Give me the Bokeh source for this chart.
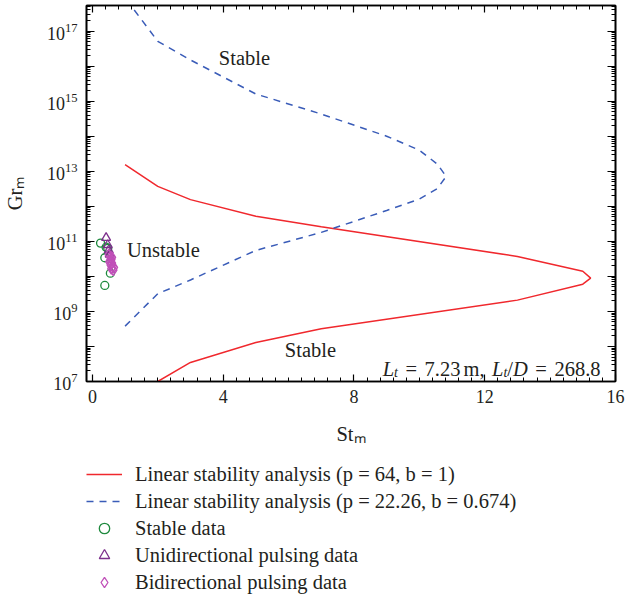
from bokeh.plotting import figure
from bokeh.layouts import column
from bokeh.models import (Range1d, LogAxis, LinearAxis, FixedTicker, LogTickFormatter,
                          Legend, LegendItem, Label)
from bokeh.embed import file_html
from bokeh.resources import INLINE

# ---------------- data ----------------
red_st = [1, 2, 3, 5, 7, 13, 15, 15.24, 15, 13, 7, 5, 3, 2]
red_gr = [1.55e13, 3.7e12, 1.55e12, 5.2e11, 2.6e11, 3.7e10, 1.4e10, 8.9e9,
          6.0e9, 2.1e9, 3.2e8, 1.3e8, 3.5e7, 1.0e7]

blue_st = [1, 2, 3, 5, 7, 9, 10, 10.55, 10.82, 10.55, 10, 9, 7, 5, 3, 2, 1]
blue_gr = [3.8e8, 3.2e9, 7.9e9, 5.5e10, 1.8e11, 7.6e11, 1.6e12, 3.2e12, 7.1e12,
           1.6e13, 4.0e13, 1.0e14, 4.3e14, 1.6e15, 1.5e16, 5.1e16, 8.9e17]

stable_st = [0.25, 0.42, 0.47, 0.38, 0.55, 0.38]
stable_gr = [8.9e10, 6.8e10, 6.3e10, 3.4e10, 1.23e10, 5.5e9]

uni_st = [0.42, 0.47, 0.50, 0.53]
uni_gr = [1.26e11, 7.9e10, 5.6e10, 4.2e10]

bi_st = [0.50, 0.55, 0.58, 0.52, 0.60, 0.56, 0.62, 0.58, 0.64, 0.54, 0.60, 0.66]
bi_gr = [4.2e10, 3.5e10, 3.0e10, 2.6e10, 2.4e10, 2.1e10, 1.9e10, 1.66e10, 1.5e10,
         2.8e10, 3.5e10, 1.8e10]

x_ticks = [0, 4, 8, 12, 16]
y_decades = list(range(7, 18))
y_label_decades = [7, 9, 11, 13, 15, 17]

x_title = "St\u2098"
y_title = "Gr\u2098"
legend_labels = [
    "Linear stability analysis (p = 64, b = 1)",
    "Linear stability analysis (p = 22.26, b = 0.674)",
    "Stable data",
    "Unidirectional pulsing data",
    "Bidirectional pulsing data",
]

# ---------------- styling ----------------
FONT = "Liberation Serif"
TXT = "#231f20"
RED = "#f0282d"
BLUE = "#3a5cb8"
GREEN = "#1f8a3e"
PURPLE = "#7d2f8c"
MAGENTA = "#c04fb8"

W = 625
MAIN_H = 455
FL, FT, FB = 86, 5, 381   # frame left/top/bottom on the canvas

p = figure(width=W, height=MAIN_H, output_backend="svg", toolbar_location=None,
           x_range=Range1d(-0.18, 16), y_range=Range1d(1e7, 10 ** 17.73),
           y_axis_type="log", min_border_left=FL, min_border_right=10,
           min_border_top=FT, min_border_bottom=MAIN_H - FB)
p.xgrid.visible = False
p.ygrid.visible = False
p.outline_line_color = "black"
p.outline_line_width = 1.6
p.background_fill_color = "white"
p.border_fill_color = "white"

x_minor = [round(0.4 * i, 2) for i in range(41)]
y_major = [10.0 ** d for d in y_decades]
y_minor = [k * 10.0 ** d for d in y_decades for k in range(2, 10)]
xt = FixedTicker(ticks=x_ticks, minor_ticks=x_minor)
yt = FixedTicker(ticks=y_major, minor_ticks=y_minor)


def style_axis(ax, major_len, minor_len):
    ax.axis_line_color = "black"
    ax.axis_line_width = 1.6
    ax.major_tick_line_color = "black"
    ax.minor_tick_line_color = "black"
    ax.major_tick_line_width = 1.2
    ax.minor_tick_line_width = 1.0
    ax.major_tick_in = major_len
    ax.major_tick_out = 0
    ax.minor_tick_in = minor_len
    ax.minor_tick_out = 0
    ax.major_label_text_font = FONT
    ax.major_label_text_color = TXT
    ax.axis_label_text_font = FONT
    ax.axis_label_text_color = TXT
    ax.axis_label_text_font_style = "normal"
    ax.axis_label_text_font_size = "20.5px"


xa = p.xaxis[0]
xa.ticker = xt
style_axis(xa, 7, 4)
xa.major_label_text_font_size = "18px"
xa.major_label_standoff = 8
xa.axis_label = x_title
xa.axis_label_standoff = 17

ya = p.yaxis[0]
ya.ticker = yt
ya.formatter = LogTickFormatter()
style_axis(ya, 8, 4)
ya.major_label_text_font_size = "18px"
ya.major_label_standoff = 9
ya.major_label_overrides = {10.0 ** d: "" for d in y_decades if d not in y_label_decades}
ya.axis_label = y_title
ya.axis_label_standoff = 18

top = LinearAxis(ticker=xt, major_label_overrides={t: "" for t in x_ticks},
                 major_label_standoff=0)
style_axis(top, 7, 4)
p.add_layout(top, "above")
right = LogAxis(ticker=yt, major_label_overrides={t: "" for t in y_major},
                major_label_standoff=0)
style_axis(right, 8, 4)
p.add_layout(right, "right")

# ---------------- curves & data ----------------
line_red = dict(line_color=RED, line_width=1.5)
line_blue = dict(line_color=BLUE, line_width=1.5, line_dash="7 6")
m_st = dict(marker="circle", fill_color=None, line_color=GREEN, line_width=1.3)
m_uni = dict(marker="triangle", fill_color=None, line_color=PURPLE, line_width=1.3)
m_bi = dict(marker="diamond", fill_color=None, line_color=MAGENTA, line_width=1.3)

p.line(red_st, red_gr, **line_red)
p.line(blue_st, blue_gr, **line_blue)
p.scatter(stable_st, stable_gr, size=8, **m_st)
p.scatter(uni_st, uni_gr, size=9, **m_uni)
p.scatter(bi_st, bi_gr, size=11, **m_bi)

# ---------------- in-plot annotations ----------------
for txt, xd, yd in [("Stable", 4.65, 10 ** 16.22), ("Unstable", 2.17, 10 ** 10.75),
                    ("Stable", 6.67, 10 ** 7.91)]:
    p.add_layout(Label(x=xd, y=yd, text=txt, text_align="center", text_baseline="middle",
                       text_font=FONT, text_font_size="20.5px", text_color=TXT))

# Times/Liberation Serif advance widths (em) used to lay out the mixed-style pieces
REG = {"=": 0.564, ".": 0.25, ",": 0.25, "m": 0.778, "/": 0.278, " ": 0.25}
ITA = {"L": 0.556, "t": 0.278, "D": 0.722}


def width(s, ital, size):
    tab = ITA if ital else REG
    return sum(tab.get(c, 0.5) for c in s) * size


F, S, G = 20.5, 14, 7.5
# (text, italic, size, baseline shift, gap after)
ann = [("L", True, F, 0, 0), ("t", True, S, 4, G), ("=", False, F, 0, G),
       ("7.23", False, F, 0, 3), ("m,", False, F, 0, G),
       ("L", True, F, 0, 0), ("t", True, S, 4, 0), ("/", False, F, 0, 0),
       ("D", True, F, 0, G), ("=", False, F, 0, G), ("268.8", False, F, 0, 0)]
total = sum(width(t, i, s) + g for t, i, s, _, g in ann)
pos = 600 - total
for text, ital, size, shift, gap in ann:
    p.add_layout(Label(x=pos - FL, y=FB - (368 + shift), x_units="screen", y_units="screen",
                       text=text, text_align="left", text_baseline="alphabetic",
                       text_font=FONT, text_font_size=f"{size}px",
                       text_font_style="italic" if ital else "normal", text_color=TXT))
    pos += width(text, ital, size) + gap

# ---------------- legend (own strip below the chart) ----------------
LEG_H = 595 - MAIN_H
q = figure(width=W, height=LEG_H, output_backend="svg", toolbar_location=None,
           x_axis_type=None, y_axis_type=None,
           x_range=Range1d(-20, -19), y_range=Range1d(-20, -19),   # keeps the series off-view
           min_border_left=FL, min_border_top=6, min_border_right=0, min_border_bottom=0,
           outline_line_color=None)
q.xgrid.visible = False
q.ygrid.visible = False
q.border_fill_color = "white"
q.background_fill_color = "white"
g_red = q.line(red_st, red_gr, **line_red)
g_blue = q.line(blue_st, blue_gr, **line_blue)
g_st = q.scatter(stable_st, stable_gr, **m_st)
g_uni = q.scatter(uni_st, uni_gr, **m_uni)
g_bi = q.scatter(bi_st, bi_gr, **m_bi)

legend = Legend(items=[LegendItem(label=legend_labels[0], renderers=[g_red]),
                       LegendItem(label=legend_labels[1], renderers=[g_blue]),
                       LegendItem(label=legend_labels[2], renderers=[g_st]),
                       LegendItem(label=legend_labels[3], renderers=[g_uni]),
                       LegendItem(label=legend_labels[4], renderers=[g_bi])],
                location="top_left", orientation="vertical",
                glyph_width=36, glyph_height=26, label_height=26, spacing=1,
                padding=0, margin=0, label_standoff=13,
                border_line_color=None, background_fill_alpha=0,
                label_text_font=FONT, label_text_font_size="20.5px",
                label_text_color=TXT)
q.add_layout(legend)

layout = column(p, q, spacing=0)
open("out.html", "w").write(file_html(layout, INLINE))
